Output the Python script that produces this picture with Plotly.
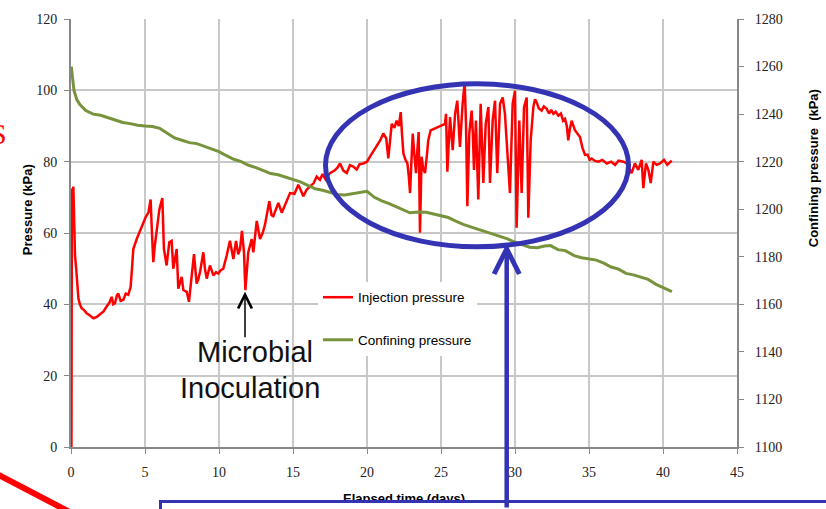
import plotly.graph_objects as go

# ---------------- data ----------------
inj_days = [0.03, 0.06, 0.1, 0.16, 0.22, 0.27, 0.35, 0.5, 0.6, 0.72, 0.9, 1.06, 1.3, 1.51, 1.75, 1.96,
            2.2, 2.41, 2.6, 2.75, 2.85, 2.97, 3.1, 3.2, 3.35, 3.54, 3.7, 3.87, 4.03, 4.12, 4.21, 4.44,
            4.65, 4.89, 5.05, 5.23, 5.38, 5.47, 5.56, 5.65, 5.79, 5.97, 6.17, 6.28, 6.46, 6.64, 6.8,
            6.91, 7.0, 7.14, 7.25, 7.35, 7.48, 7.59, 7.82, 7.97, 8.15, 8.31, 8.49, 8.6, 8.72, 8.94,
            9.05, 9.17, 9.39, 9.62, 9.8, 9.95, 10.1, 10.29, 10.52, 10.74, 10.97, 11.15, 11.3, 11.42,
            11.55, 11.69, 11.78, 11.9, 11.98, 12.21, 12.32, 12.55, 12.77, 12.95, 13.11, 13.4, 13.55,
            13.67, 14.01, 14.24, 14.5, 14.8, 15.1, 15.36, 15.7, 15.9, 16.15, 16.4, 16.6, 16.82, 17.0,
            17.2, 17.5, 17.8, 18.0, 18.18, 18.4, 18.63, 18.85, 19.07, 19.3, 19.5, 19.75, 20.0, 20.2,
            20.45, 20.65, 20.9, 21.1, 21.3, 21.44, 21.55, 21.67, 21.85, 22.0, 22.15, 22.28, 22.36,
            22.46, 22.6, 22.73, 22.82, 22.91, 23.0, 23.09, 23.2, 23.31, 23.4, 23.49, 23.58, 23.69,
            23.8, 23.92, 24.05, 24.14, 24.3, 25.27, 25.34, 25.43, 25.52, 25.61, 25.79, 25.95, 26.1,
            26.2, 26.28, 26.46, 26.6, 26.69, 26.78, 26.91, 27.07, 27.15, 27.23, 27.36, 27.52, 27.68,
            27.86, 28.02, 28.2, 28.31, 28.49, 28.65, 28.8, 28.99, 29.17, 29.32, 29.48, 29.66, 29.84,
            30.0, 30.11, 30.29, 30.45, 30.61, 30.79, 30.9, 31.06, 31.24, 31.35, 31.47, 31.6, 31.8,
            31.95, 32.14, 32.3, 32.45, 32.59, 32.75, 32.93, 33.1, 33.25, 33.38, 33.5, 33.6, 33.7,
            33.83, 34.05, 34.2, 34.39, 34.55, 34.73, 34.9, 35.05, 35.18, 35.4, 35.63, 35.9, 36.2,
            36.5, 36.76, 37.0, 37.32, 37.55, 37.88, 38.1, 38.33, 38.56, 38.67, 38.85, 39.01, 39.17,
            39.35, 39.57, 39.8, 40.07, 40.29, 40.59]
inj_kpa = [0, 72.5, 71, 73, 62, 53.7, 50, 41.7, 40, 38.9, 38.3, 37.5, 36.8, 36.1, 36.5, 37.1,
           38, 39.4, 40.5, 42.1, 40, 40.3, 42.5, 43, 41, 41.3, 43, 42.7, 44.9, 50, 55.5, 58.3,
           60.5, 62.9, 64.5, 65.7, 69.4, 60, 51.8, 56, 61.1, 66.6, 69.8, 55.5, 50.9, 57.4, 57.8,
           50, 52, 55.5, 44.4, 46, 47.7, 44, 43.5, 40.7, 48.1, 54.1, 45.8, 47, 49.1, 54.6,
           50, 47.2, 50.9, 48.1, 49, 48.6, 49.5, 50, 53.7, 57.8, 52.7, 57.8, 54, 55.5,
           60.6, 54.6, 44, 50, 54.6, 58.3, 54.6, 63.4, 58.3, 60, 62.4, 68.9, 65,
           64.7, 68.4, 65.7, 68.5, 71.2, 71, 73.5, 70.3, 72, 73.1, 74, 75.8, 74.9, 76.5,
           75, 76.8, 77.5, 78.3, 79.5, 77.5, 76.8, 79, 78.6, 77.8, 79.3, 79.5, 80, 81.4,
           83, 84.6, 86, 87.9, 86.5, 80.9, 86, 90.6, 89.5, 91.5, 90, 93.9, 88,
           82.3, 80.5, 79.5, 76, 71.2, 80, 87.9, 82, 76.8, 83, 88.3, 60.1, 81.4,
           78, 76.8, 82, 86.0, 88.8, 90.6, 93.4, 77.2, 85, 92.5, 83.2, 93.4, 97.1,
           90, 84.1, 96.2, 102.2, 90.6, 67.5, 87.9, 94.3, 88, 77.7, 91.5, 69.4, 96.2,
           74.0, 90.6, 95.3, 74.0, 91.5, 97.1, 76.8, 96.2, 98.0, 93.4, 84.1, 71.2, 96.2,
           99.9, 61.5, 91.5, 71.2, 95.3, 98.0, 64.3, 86.0, 95.3, 97.5, 96.6, 95, 94.3,
           95.5, 94.8, 93.5, 94.5, 93.4, 94, 92.9, 93.5, 91.5, 92.0, 90, 86.0, 89,
           91.5, 88.8, 88, 86.9, 84, 81.9, 82, 80.5, 80.9, 80.2, 80.0, 80.5, 79.5,
           80, 79.1, 80.3, 80.0, 79.5, 76.8, 79.5, 77.7, 80.5, 72.6, 79.5, 77.7, 74.0,
           80.0, 79.1, 79.5, 80.5, 79.1, 80.3]

conf_days = [0.02, 0.1, 0.2, 0.4, 0.6, 1.0, 1.5, 2.0, 2.5, 3.0, 3.5, 4.0, 4.5, 5.0, 5.5, 6.0,
             6.5, 7.0, 7.5, 8.0, 8.5, 9.0, 9.5, 10.0, 10.5, 11.0, 11.5, 12.0, 12.5, 13.0, 13.5,
             14.0, 14.5, 15.0, 15.5, 16.0, 16.5, 17.0, 17.5, 18.0, 18.5, 19.0, 19.5, 20.0, 20.5,
             21.0, 21.5, 22.0, 22.5, 22.9, 23.5, 24.0, 24.5, 25.0, 25.5, 26.0, 26.5, 27.0, 27.5,
             28.0, 28.5, 29.0, 29.5, 30.0, 30.5, 31.0, 31.5, 32.0, 32.4, 32.9, 33.4, 34.0, 34.5,
             35.0, 35.5, 36.0, 36.5, 37.0, 37.5, 38.0, 38.5, 39.0, 39.5, 40.0, 40.6]
conf_kpa = [1260, 1254, 1250, 1246, 1244, 1241.5, 1240, 1239.5, 1238.5, 1237.5, 1236.5, 1236,
            1235.3, 1235, 1234.8, 1234, 1232, 1230, 1229, 1228, 1227.6, 1226.5, 1225.5, 1224.2,
            1222.5, 1221, 1220, 1218.5, 1217.5, 1216.2, 1215, 1214.5, 1213.5, 1212.8, 1211.5,
            1210, 1208.6, 1208, 1207, 1206.2, 1206, 1206.5, 1207, 1207.5, 1205, 1203.5, 1202.4,
            1201, 1199.5, 1198.5, 1198.8, 1198.7, 1198, 1197.4, 1196.5, 1195, 1193.6, 1192.6,
            1191.6, 1190.5, 1189.5, 1188.7, 1187.5, 1186.1, 1185, 1184, 1183.8, 1184.5, 1184.7,
            1183, 1182.6, 1180.5, 1179.6, 1179.2, 1178.6, 1177.3, 1175.7, 1174.8, 1173, 1172.4,
            1171.5, 1170.5, 1168.5, 1167, 1165.3]

x_ticks = [0, 5, 10, 15, 20, 25, 30, 35, 40, 45]
left_ticks = [0, 20, 40, 60, 80, 100, 120]
right_ticks = [1100, 1120, 1140, 1160, 1180, 1200, 1220, 1240, 1260, 1280]

# ---------------- figure ----------------
W, H = 826, 509
L, R, T, B = 71, 89, 14, 62
pw, ph = W - L - R, H - T - B

def px(xp):
    return (xp - L) / pw

def py(yp):
    return (H - B - yp) / ph

BLUE = "#3333B3"
SERIF = "Liberation Serif, Times New Roman, serif"
SANS = "Liberation Sans, Arial, sans-serif"
TICKFONT = dict(family=SERIF, size=14, color="#222222")
TITLEFONT = dict(family=SANS, size=13, color="#000000")

fig = go.Figure()
fig.add_trace(go.Scatter(x=inj_days, y=inj_kpa, mode="lines", name="Injection pressure",
                         line=dict(color="#FF0000", width=2.5), legendgroup="a"))
fig.add_trace(go.Scatter(x=conf_days, y=conf_kpa, mode="lines", name="Confining pressure",
                         line=dict(color="#77933C", width=3), yaxis="y2", legendgroup="b"))

fig.update_layout(
    width=W, height=H, margin=dict(l=L, r=R, t=T, b=B),
    paper_bgcolor="white", plot_bgcolor="white",
    showlegend=True,
    legend=dict(x=px(318), y=py(280), xanchor="left", yanchor="top",
                bgcolor="white", tracegroupgap=22,
                font=dict(family=SANS, size=13.5, color="#000"),
                itemwidth=30),
    xaxis=dict(range=[0, 45], tickvals=x_ticks, showgrid=True, gridcolor="#C8C8C8", gridwidth=1.5,
               showline=True, linecolor="#888888", linewidth=2, ticks="outside", ticklen=5,
               tickcolor="#888888", tickfont=TICKFONT, zeroline=False, ticklabelstandoff=6),
    yaxis=dict(range=[0, 120], tickvals=left_ticks, showgrid=True, gridcolor="#C8C8C8", gridwidth=1.5,
               showline=True, linecolor="#888888", linewidth=2, ticks="outside", ticklen=5,
               tickcolor="#888888", tickfont=TICKFONT, zeroline=False, ticklabelstandoff=4),
    yaxis2=dict(range=[1100, 1280], tickvals=right_ticks, overlaying="y", side="right", showgrid=False,
                showline=True, linecolor="#888888", linewidth=2, ticks="outside", ticklen=5,
                tickcolor="#888888", tickfont=TICKFONT, zeroline=False, ticklabelstandoff=8),
)

shapes = [
    # ellipse highlight
    dict(type="circle", xref="x", yref="y", x0=(325.5 - L) / 14.8, x1=(628.5 - L) / 14.8,
         y0=(H - B - 244.5) / 3.608, y1=(H - B - 79.5) / 3.608, line=dict(color=BLUE, width=5),
         layer="above"),
    # red diagonal stroke at bottom-left
    dict(type="line", xref="paper", yref="paper", x0=px(-2), y0=py(475), x1=px(72), y1=py(514),
         line=dict(color="#FF0000", width=6), layer="above"),
]
fig.update_layout(shapes=shapes)

annotations = [
    # axis titles
    dict(text="<b>Pressure (kPa)</b>", xref="paper", yref="paper", x=px(27.5), y=py(207),
         xanchor="center", yanchor="middle", textangle=-90, showarrow=False, font=TITLEFONT),
    dict(text="<b>Confining pressure  (kPa)</b>", xref="paper", yref="paper", x=px(813), y=py(165),
         xanchor="center", yanchor="middle", textangle=-90, showarrow=False, font=TITLEFONT),
    dict(text="<b>Elapsed time (days)</b>", xref="paper", yref="paper", x=px(404), y=py(489),
         xanchor="center", yanchor="top", showarrow=False, font=TITLEFONT),
    # Microbial inoculation text + arrow
    dict(text="Microbial", xref="paper", yref="paper", x=px(254.5), y=py(351), xanchor="center",
         yanchor="middle", showarrow=False, font=dict(family=SANS, size=29, color="#111")),
    dict(text="Inoculation", xref="paper", yref="paper", x=px(250), y=py(387), xanchor="center",
         yanchor="middle", showarrow=False, font=dict(family=SANS, size=29, color="#111")),
    dict(text="", xref="paper", yref="paper", x=px(245), y=py(290), ax=0, ay=47, axref="pixel",
         ayref="pixel", showarrow=True, arrowhead=5, arrowsize=1.8, arrowwidth=1.5, arrowcolor="#000",
         standoff=0),
    # red partial letter at left edge
    dict(text="S", xref="paper", yref="paper", x=px(9), y=py(130), xanchor="right", yanchor="middle",
         showarrow=False, font=dict(family=SERIF, size=30, color="#FF0000")),
    # blue box at bottom (covers lower part of the x title)
    dict(text=" ", xref="paper", yref="paper", x=px(158.5), y=py(500.5), xanchor="left", yanchor="top",
         width=700, height=40, bgcolor="white", bordercolor=BLUE, borderwidth=3, showarrow=False),
    # blue arrow
    dict(text="", xref="paper", yref="paper", x=px(506.7), y=py(241), ax=0, ay=290, axref="pixel",
         ayref="pixel", showarrow=True, arrowhead=5, arrowsize=1.1, arrowwidth=4.5, arrowcolor=BLUE,
         standoff=0),
]
fig.update_layout(annotations=annotations)

fig.write_html("out.html")
